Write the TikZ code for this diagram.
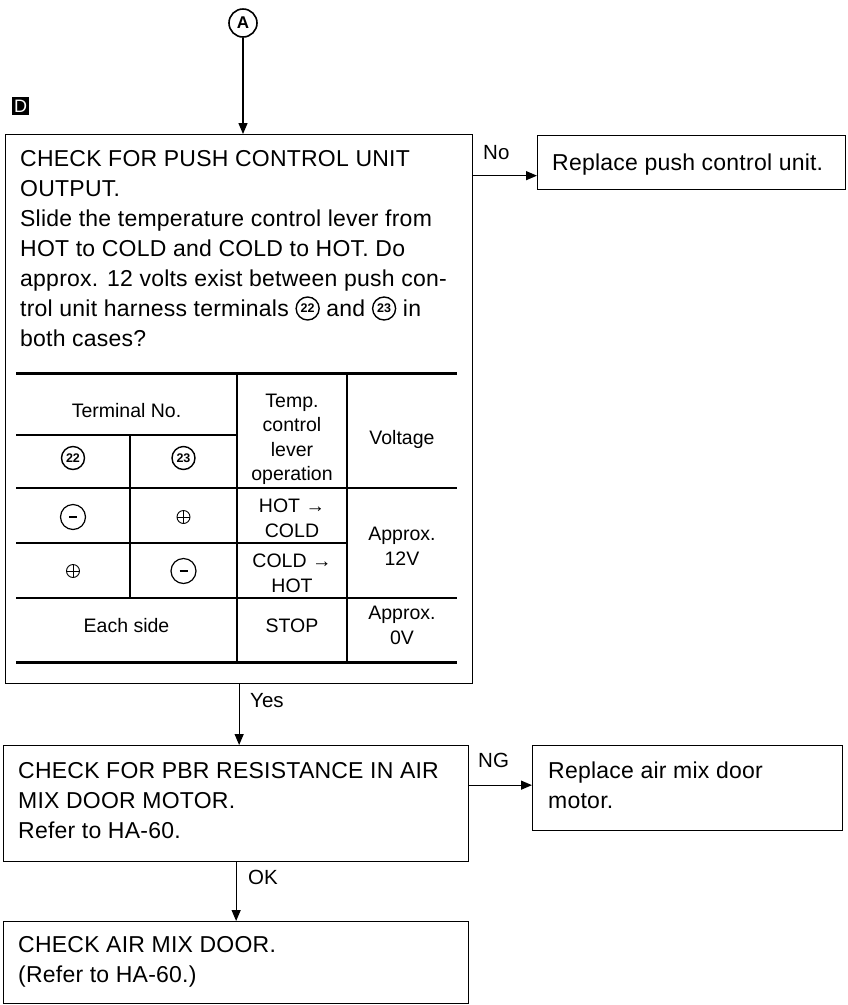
\documentclass[tikz,border=0pt]{standalone}
\usepackage{fontspec}
\setmainfont{Liberation Sans}
\newfontfamily\mainf[LetterSpace=1]{Liberation Sans}
\usetikzlibrary{arrows.meta,calc}
\newcommand\cnum[1]{\tikz[baseline={([yshift=-7.5pt]cn.center)}]\node[circle,draw,line width=1.4pt,inner sep=0pt,minimum size=23pt,font=\normalfont\bfseries\fontsize{12.5}{13}\selectfont](cn){#1};}
\begin{document}
\begin{tikzpicture}[x=1pt,y=-1pt,
  box/.style={draw,line width=1.3pt,inner sep=0pt,anchor=north west},
  txt/.style={anchor=base west,inner sep=0pt,font=\mainf\fontsize{23}{27}\selectfont},
  lbl/.style={anchor=base west,inner sep=0pt,font=\fontsize{20.5}{24}\selectfont},
  tc/.style={anchor=base,inner sep=0pt,font=\fontsize{19.5}{23}\selectfont},
  arr/.style={line width=1.3pt,-{Triangle[length=11pt,width=9pt]}},
  tl/.style={line width=1.2pt},
  tk/.style={line width=3pt},
  minusc/.style={circle,draw,line width=1.2pt,minimum size=25pt,inner sep=0pt},
  plusc/.style={circle,draw,line width=0.9pt,minimum size=13pt,inner sep=0pt,
    path picture={\draw[line width=0.9pt] (path picture bounding box.north) -- (path picture bounding box.south)
      (path picture bounding box.west) -- (path picture bounding box.east);}},
]
\useasboundingbox (0,0) rectangle (847,1005);

% connector A and label D
\node[circle,draw,line width=1.6pt,minimum size=28pt,inner sep=0pt,font=\bfseries\fontsize{17}{17}\selectfont] (A) at (243,23) {A};
\node[fill=black,text=white,minimum width=17pt,minimum height=18pt,inner sep=0pt,font=\fontsize{18}{18}\selectfont] (D) at (20.5,106) {D};

% boxes
\node[box,minimum width=467pt,minimum height=549pt] (b1) at (5,134) {};
\node[box,minimum width=308pt,minimum height=54pt] (r1) at (537,135) {};
\node[box,minimum width=465pt,minimum height=116pt] (b2) at (3,745) {};
\node[box,minimum width=310pt,minimum height=85pt] (r2) at (532,745) {};
\node[box,minimum width=465pt,minimum height=82pt] (b3) at (3,921) {};

% box 1 text
\node[txt] (t1) at (20,166) {CHECK FOR PUSH CONTROL UNIT};
\node[txt] (t2) at (20,196) {OUTPUT.};
\node[txt] (t3) at (20,226) {Slide the temperature control lever from};
\node[txt] (t4) at (20,256) {HOT to COLD and COLD to HOT. Do};
\node[txt] (t5) at (20,286) {approx. 12 volts exist between push con-};
\node[txt] (t6) at (20,316) {trol unit harness terminals \cnum{22} and \cnum{23} in};
\node[txt] (t7) at (20,346) {both cases?};

% table
\draw[tk] (16,373) -- (457,373);
\draw[tk] (16,662) -- (457,662);
\draw[tl] (130,435) -- (130,598);
\draw[tl] (237,373) -- (237,662);
\draw[tl] (347,373) -- (347,662);
\draw[tl] (16,435) -- (237,435);
\draw[tl] (16,488) -- (457,488);
\draw[tl] (16,543) -- (347,543);
\draw[tl] (16,598) -- (457,598);

\node[tc] (h1) at (126.5,417) {Terminal No.};
\node[tc] (h2a) at (292,407) {Temp.};
\node[tc] (h2b) at (292,431.5) {control};
\node[tc] (h2c) at (292,456) {lever};
\node[tc] (h2d) at (292,480.5) {operation};
\node[tc] (h3) at (402,444) {Voltage};
\node[inner sep=0pt] (n22) at (73,458) {\cnum{22}};
\node[inner sep=0pt] (n23) at (183.5,458) {\cnum{23}};

\node[minusc] (m1) at (73,517) {\rule{8pt}{2pt}};
\node[plusc] (p1) at (183.5,517) {};
\node[tc] (o1a) at (292,512) {HOT →};
\node[tc] (o1b) at (292,537) {COLD};
\node[plusc] (p2) at (73,571) {};
\node[minusc] (m2) at (183.5,571) {\rule{8pt}{2pt}};
\node[tc] (o2a) at (292,567) {COLD →};
\node[tc] (o2b) at (292,592) {HOT};
\node[tc] (v1a) at (402,540) {Approx.};
\node[tc] (v1b) at (402,565) {12V};
\node[tc] (e1) at (126.5,632) {Each side};
\node[tc] (s1) at (292,632) {STOP};
\node[tc] (v2a) at (402,619) {Approx.};
\node[tc] (v2b) at (402,644) {0V};

% right box texts
\node[txt] (tr1) at (552,170) {Replace push control unit.};
\node[txt] (tb2a) at (18,778) {CHECK FOR PBR RESISTANCE IN AIR};
\node[txt] (tb2b) at (18,808) {MIX DOOR MOTOR.};
\node[txt] (tb2c) at (18,838) {Refer to HA-60.};
\node[txt] (tr2a) at (548,778) {Replace air mix door};
\node[txt] (tr2b) at (548,808) {motor.};
\node[txt] (tb3a) at (18,952) {CHECK AIR MIX DOOR.};
\node[txt] (tb3b) at (18,982) {(Refer to HA-60.)};

% connectors
\draw[arr] (A) -- (A |- b1.north);
\draw[arr] ([yshift=-13pt]r1.west -| b1.east) -- ([yshift=-13pt]r1.west);
\draw[arr] (b1.south) -- (b1.south |- b2.north);
\draw[arr] ([yshift=3pt]r2.west -| b2.east) -- ([yshift=3pt]r2.west);
\draw[arr] (b2.south) -- (b2.south |- b3.north);

% connector labels
\node[lbl] (lno) at (483,159) {No};
\node[lbl] (lyes) at (250,707) {Yes};
\node[lbl] (lng) at (478,767) {NG};
\node[lbl] (lok) at (248,884) {OK};
\end{tikzpicture}
\end{document}
